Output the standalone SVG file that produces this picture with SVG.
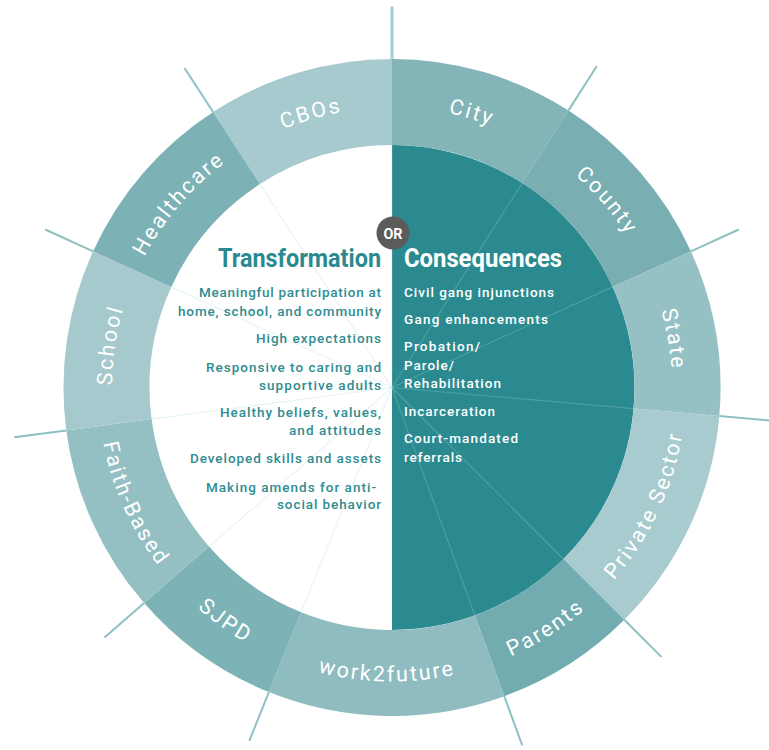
<svg xmlns="http://www.w3.org/2000/svg" xmlns:xlink="http://www.w3.org/1999/xlink" width="769" height="750" viewBox="0 0 769 750">
<style>
.lbl{font-family:Roboto,"Liberation Sans",sans-serif;font-size:21.5px;font-weight:400;fill:#ffffff;letter-spacing:2.2px}
.title{font-family:Roboto,"Liberation Sans",sans-serif;font-size:25px;font-weight:700}
.itemL{font-family:Roboto,"Liberation Sans",sans-serif;font-size:13.5px;font-weight:500;fill:#2f8c91;text-anchor:end}
.itemR{font-family:Roboto,"Liberation Sans",sans-serif;font-size:13.5px;font-weight:500;fill:#ffffff}
.spokeIn{stroke:#a9d6d8;stroke-opacity:0.28;stroke-width:1.2}
.spokeOut{stroke:#8ec0c3;stroke-width:2}
</style>
<defs>
<path id="cw" d="M392,667.5 A280,280 0 0 1 392,107.5 A280,280 0 0 1 392,667.5" fill="none"/>
<path id="ccw" d="M392,93.5 A294,294 0 0 0 392,681.5 A294,294 0 0 0 392,93.5" fill="none"/>
</defs>
<rect width="769" height="750" fill="#ffffff"/>

<g id="center">
<path d="M392,145 A242.5,242.5 0 0 1 392,630 Z" fill="#2a8a8f"/>
</g>

<g id="ring-CBOs"><path d="M213.1,112 A328.5,328.5 0 0 1 392,59 L392,145 A242.5,242.5 0 0 0 259.9,184.1 Z" fill="#a6cacd"/>
<text class="lbl"><textPath xlink:href="#cw" href="#cw" startOffset="45.42%" text-anchor="middle">CBOs</textPath></text></g>
<g id="ring-City"><path d="M392,59 A328.5,328.5 0 0 1 568.5,110.4 L522.3,183 A242.5,242.5 0 0 0 392,145 Z" fill="#83b4b7"/>
<text class="lbl"><textPath xlink:href="#cw" href="#cw" startOffset="54.51%" text-anchor="middle">City</textPath></text></g>
<g id="ring-County"><path d="M568.5,110.4 A328.5,328.5 0 0 1 690.9,251.3 L612.7,286.9 A242.5,242.5 0 0 0 522.3,183 Z" fill="#79aeb2"/>
<text class="lbl"><textPath xlink:href="#cw" href="#cw" startOffset="63.61%" text-anchor="middle">County</textPath></text></g>
<g id="ring-State"><path d="M690.9,251.3 A328.5,328.5 0 0 1 719.3,416.1 L633.6,408.6 A242.5,242.5 0 0 0 612.7,286.9 Z" fill="#96c1c4"/>
<text class="lbl"><textPath xlink:href="#cw" href="#cw" startOffset="72.29%" text-anchor="middle">State</textPath></text></g>
<g id="ring-PrivateSector"><path d="M719.3,416.1 A328.5,328.5 0 0 1 624.3,619.8 L563.5,559 A242.5,242.5 0 0 0 633.6,408.6 Z" fill="#a7cbce"/>
<text class="lbl"><textPath xlink:href="#ccw" href="#ccw" startOffset="68.06%" text-anchor="middle">Private Sector</textPath></text></g>
<g id="ring-Parents"><path d="M624.3,619.8 A328.5,328.5 0 0 1 504.3,696.2 L474.9,615.4 A242.5,242.5 0 0 0 563.5,559 Z" fill="#72acb0"/>
<text class="lbl"><textPath xlink:href="#ccw" href="#ccw" startOffset="59.03%" text-anchor="middle">Parents</textPath></text></g>
<g id="ring-work2future"><path d="M504.3,696.2 A328.5,328.5 0 0 1 268.9,692.1 L301.2,612.3 A242.5,242.5 0 0 0 474.9,615.4 Z" fill="#8fbcc0"/>
<text class="lbl"><textPath xlink:href="#ccw" href="#ccw" startOffset="49.72%" text-anchor="middle">work2future</textPath></text></g>
<g id="ring-SJPD"><path d="M268.9,692.1 A328.5,328.5 0 0 1 144.1,603 L209,546.6 A242.5,242.5 0 0 0 301.2,612.3 Z" fill="#7db3b6"/>
<text class="lbl"><textPath xlink:href="#ccw" href="#ccw" startOffset="40.14%" text-anchor="middle">SJPD</textPath></text></g>
<g id="ring-FaithBased"><path d="M144.1,603 A328.5,328.5 0 0 1 66.3,430.4 L151.6,419.1 A242.5,242.5 0 0 0 209,546.6 Z" fill="#94c0c3"/>
<text class="lbl"><textPath xlink:href="#ccw" href="#ccw" startOffset="31.74%" text-anchor="middle">Faith-Based</textPath></text></g>
<g id="ring-School"><path d="M66.3,430.4 A328.5,328.5 0 0 1 93.1,251.3 L171.3,286.9 A242.5,242.5 0 0 0 151.6,419.1 Z" fill="#a5c9cc"/>
<text class="lbl"><textPath xlink:href="#cw" href="#cw" startOffset="27.36%" text-anchor="middle">School</textPath></text></g>
<g id="ring-Healthcare"><path d="M93.1,251.3 A328.5,328.5 0 0 1 213.1,112 L259.9,184.1 A242.5,242.5 0 0 0 171.3,286.9 Z" fill="#7cb2b5"/>
<text class="lbl"><textPath xlink:href="#cw" href="#cw" startOffset="36.32%" text-anchor="middle">Healthcare</textPath></text></g>

<g id="connectors">
<line class="spokeIn" x1="392" y1="387.5" x2="392" y2="145"/>
<line class="spokeIn" x1="392" y1="387.5" x2="522.3" y2="183"/>
<line class="spokeIn" x1="392" y1="387.5" x2="612.7" y2="286.9"/>
<line class="spokeIn" x1="392" y1="387.5" x2="633.6" y2="408.6"/>
<line class="spokeIn" x1="392" y1="387.5" x2="563.5" y2="559"/>
<line class="spokeIn" x1="392" y1="387.5" x2="474.9" y2="615.4"/>
<line class="spokeIn" x1="392" y1="387.5" x2="301.2" y2="612.3"/>
<line class="spokeIn" x1="392" y1="387.5" x2="209" y2="546.6"/>
<line class="spokeIn" x1="392" y1="387.5" x2="151.6" y2="419.1"/>
<line class="spokeIn" x1="392" y1="387.5" x2="171.3" y2="286.9"/>
<line class="spokeIn" x1="392" y1="387.5" x2="259.9" y2="184.1"/>
<line class="spokeOut" x1="392" y1="59" x2="392" y2="6.5" style="stroke:#a6cdd0;stroke-width:3"/>
<line class="spokeOut" x1="568.5" y1="110.4" x2="596.7" y2="66.2"/>
<line class="spokeOut" x1="690.9" y1="251.3" x2="738.7" y2="229.5"/>
<line class="spokeOut" x1="719.3" y1="416.1" x2="771.6" y2="420.7"/>
<line class="spokeOut" x1="624.3" y1="619.8" x2="661.4" y2="656.9"/>
<line class="spokeOut" x1="504.3" y1="696.2" x2="522.3" y2="745.5"/>
<line class="spokeOut" x1="268.9" y1="692.1" x2="249.3" y2="740.8"/>
<line class="spokeOut" x1="144.1" y1="603" x2="104.5" y2="637.5"/>
<line class="spokeOut" x1="66.3" y1="430.4" x2="14.3" y2="437.2"/>
<line class="spokeOut" x1="93.1" y1="251.3" x2="45.3" y2="229.5"/>
<line class="spokeOut" x1="213.1" y1="112" x2="184.5" y2="68"/>
</g>

<g id="or-badge">
<circle cx="393" cy="233" r="16.5" fill="#5b5b5b"/>
<text x="393" y="238.5" text-anchor="middle" font-family="Roboto,'Liberation Sans',sans-serif" font-size="15" font-weight="700" fill="#ffffff" textLength="19" lengthAdjust="spacingAndGlyphs">OR</text>
</g>

<g id="transformation">
<text class="title" x="381" y="267" text-anchor="end" fill="#2a8a8f" textLength="163" lengthAdjust="spacingAndGlyphs">Transformation</text>
<text class="itemL" x="381" y="297" textLength="182">Meaningful participation at</text>
<text class="itemL" x="381" y="316" textLength="203">home, school, and community</text>
<text class="itemL" x="381" y="343" textLength="125">High expectations</text>
<text class="itemL" x="381" y="372" textLength="175">Responsive to caring and</text>
<text class="itemL" x="381" y="390" textLength="122">supportive adults</text>
<text class="itemL" x="381" y="417" textLength="161">Healthy beliefs, values,</text>
<text class="itemL" x="381" y="435" textLength="92">and attitudes</text>
<text class="itemL" x="381" y="463" textLength="191">Developed skills and assets</text>
<text class="itemL" x="376" y="492" textLength="170">Making amends for anti-</text>
<text class="itemL" x="381" y="509" textLength="104">social behavior</text>
</g>

<g id="consequences">
<text class="title" x="404" y="267" fill="#ffffff" textLength="158" lengthAdjust="spacingAndGlyphs">Consequences</text>
<text class="itemR" x="404" y="297" textLength="150">Civil gang injunctions</text>
<text class="itemR" x="404" y="324" textLength="144">Gang enhancements</text>
<text class="itemR" x="404" y="351" textLength="76">Probation/</text>
<text class="itemR" x="404" y="370" textLength="50">Parole/</text>
<text class="itemR" x="404" y="388" textLength="97">Rehabilitation</text>
<text class="itemR" x="404" y="416" textLength="91">Incarceration</text>
<text class="itemR" x="404" y="443" textLength="114">Court-mandated</text>
<text class="itemR" x="404" y="462" textLength="58">referrals</text>
</g>
</svg>
